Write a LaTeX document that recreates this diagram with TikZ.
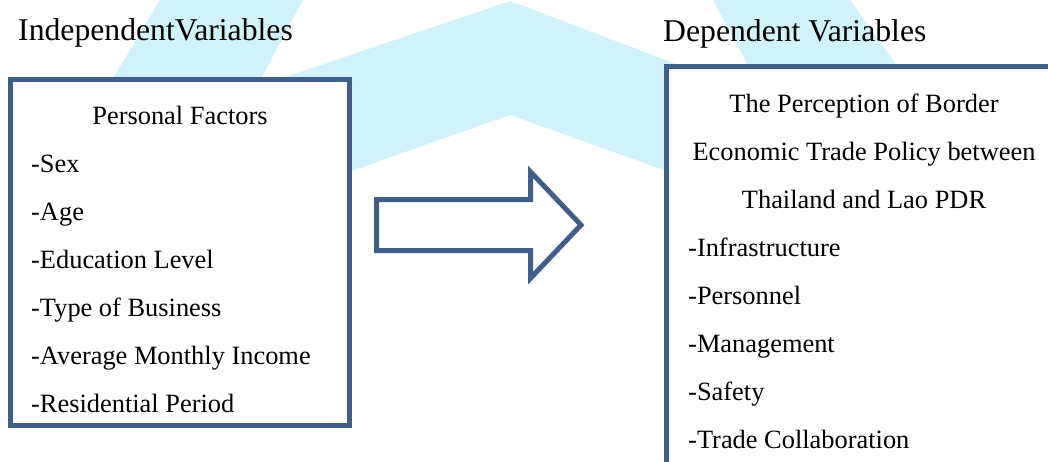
\documentclass[tikz,border=0pt]{standalone}
\usepackage{fontspec}
\setmainfont{Liberation Serif}
\definecolor{bordc}{RGB}{61,95,138}
\definecolor{wmark}{RGB}{210,242,251}
\begin{document}
\begin{tikzpicture}[x=1pt,y=-1pt,
  box/.style={draw=bordc,line width=5pt,fill=white,line join=miter},
  txt/.style={inner sep=0pt,font=\fontsize{26.4}{30}\selectfont},
  ttl/.style={inner sep=0pt,font=\fontsize{31.7}{34}\selectfont,anchor=base west}]
\useasboundingbox (0,0) rectangle (1048,461);
\clip (0,0) rectangle (1048,461);
% watermark
\fill[wmark] (160,0) -- (303,0) -- (255,90) -- (106,90) -- cycle;
\fill[wmark] (713,0) -- (850,0) -- (907,80) -- (756,80) -- cycle;
\fill[wmark] (250,89) -- (510,1) -- (700,73) -- (700,183) -- (510,115) -- (340,175) -- cycle;
% boxes
\draw[box] (10.3,79) rectangle (349.7,425.5);
\draw[box] (666.3,66.3) rectangle (1075,495);
% arrow
\draw[box] (376.5,199.5) -- (530.7,199.5) -- (530.7,172) -- (581,225) -- (530.7,278) -- (530.7,250.5) -- (376.5,250.5) -- cycle;
% titles
\node[ttl] (indep) at (18,40.5) {IndependentVariables};
\node[ttl] (dep) at (663,41.5) {Dependent Variables};
% left box
\node[txt,anchor=base] (pf) at (180,124) {Personal Factors};
\node[txt,anchor=base west] (l1) at (31,172) {-Sex};
\node[txt,anchor=base west] (l2) at (31,220) {-Age};
\node[txt,anchor=base west] (l3) at (31,268) {-Education Level};
\node[txt,anchor=base west] (l4) at (31,316) {-Type of Business};
\node[txt,anchor=base west] (l5) at (31,364) {-Average Monthly Income};
\node[txt,anchor=base west] (l6) at (31,412) {-Residential Period};
% right box
\node[txt,anchor=base] (r1) at (864,112) {The Perception of Border};
\node[txt,anchor=base] (r2) at (864,160) {Economic Trade Policy between};
\node[txt,anchor=base] (r3) at (864,208) {Thailand and Lao PDR};
\node[txt,anchor=base west] (d1) at (688,256) {-Infrastructure};
\node[txt,anchor=base west] (d2) at (688,304) {-Personnel};
\node[txt,anchor=base west] (d3) at (688,352) {-Management};
\node[txt,anchor=base west] (d4) at (688,400) {-Safety};
\node[txt,anchor=base west] (d5) at (688,448) {-Trade Collaboration};
\end{tikzpicture}
\end{document}
